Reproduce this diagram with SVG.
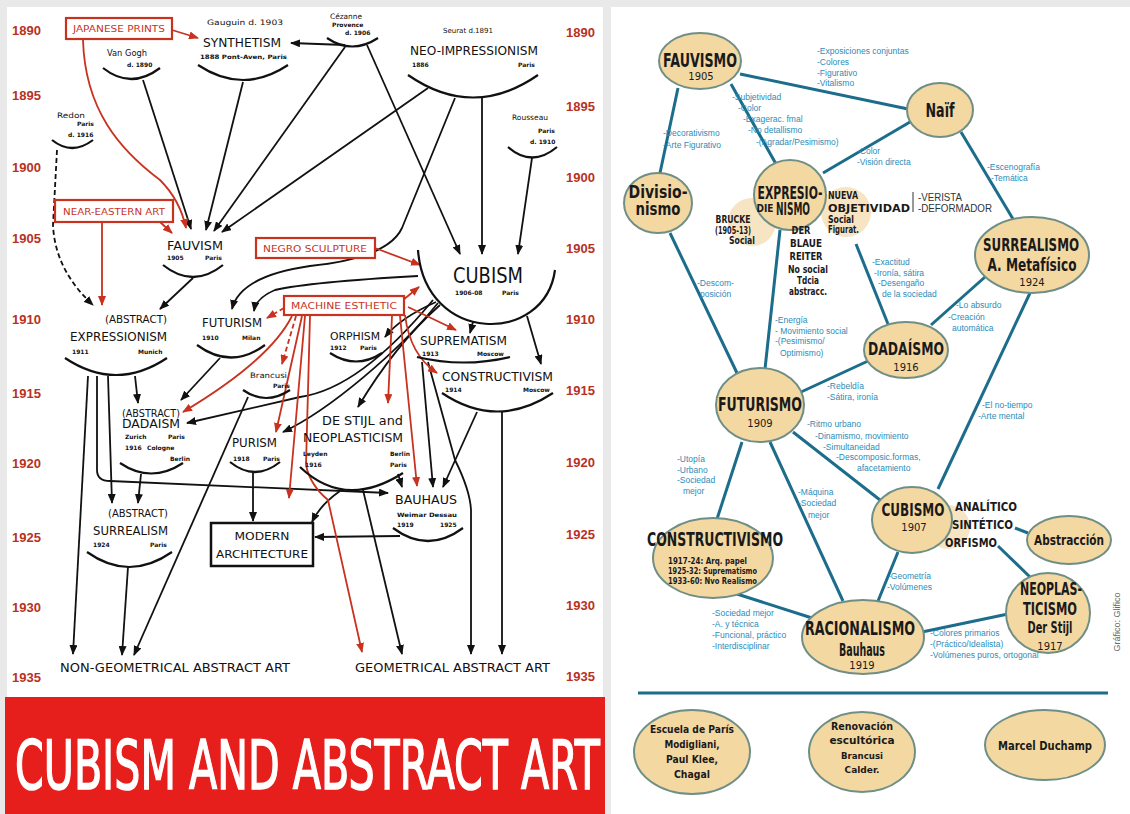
<svg xmlns="http://www.w3.org/2000/svg" width="1130" height="814" viewBox="0 0 1130 814">
<style>
.yr{font-family:"Liberation Sans",Arial,sans-serif;font-weight:bold;font-size:13px;fill:#b8311f}
.t{font-family:"DejaVu Sans",sans-serif;fill:#111}
.m{font-size:13px}
.s{font-size:6px;font-weight:bold}
.rt{font-family:"DejaVu Sans",sans-serif;font-size:9px;fill:#c8321e}
.rb{fill:#fff;stroke:#c8321e;stroke-width:2.2}
.arc{fill:none;stroke:#111;stroke-width:2.2}
.c{fill:none;stroke:#111;stroke-width:1.8;marker-end:url(#ab)}
.r{fill:none;stroke:#c8321e;stroke-width:1.8;marker-end:url(#ar)}
.d{stroke-dasharray:5 3}
.tl{fill:none;stroke:#1c6d8b;stroke-width:3}
.el{fill:#f4d8a2;stroke:#6f8f86;stroke-width:2}
.halo{fill:#f6e4c3}
.n{font-family:"DejaVu Sans",sans-serif;font-weight:bold;fill:#1a1a1a;text-anchor:middle}
.nn{font-family:"DejaVu Sans",sans-serif;fill:#1a1a1a;text-anchor:middle}
.lb{font-family:"Liberation Sans",Arial,sans-serif;font-size:8.5px;fill:#2d8cb8}
</style>
<defs>
<marker id="ab" markerUnits="userSpaceOnUse" markerWidth="10" markerHeight="8" refX="9" refY="4" orient="auto"><path d="M0,0 L10,4 L0,8 z" fill="#111"/></marker>
<marker id="ar" markerUnits="userSpaceOnUse" markerWidth="10" markerHeight="8" refX="9" refY="4" orient="auto"><path d="M0,0 L10,4 L0,8 z" fill="#c8321e"/></marker>
</defs>
<rect width="1130" height="814" fill="#e9e9e9"/>
<rect x="7" y="7" width="596" height="690" fill="#fff"/>
<rect x="611" y="7" width="519" height="807" fill="#fff"/>
<rect x="5" y="697" width="600" height="117" fill="#e61e1c"/>
<text x="15" y="789" font-family="DejaVu Sans,sans-serif" font-size="68" fill="#fff" stroke="#fff" stroke-width="1.6" textLength="585" lengthAdjust="spacingAndGlyphs">CUBISM AND ABSTRACT ART</text>

<g id="years">
<text class="yr" x="12" y="35">1890</text><text class="yr" x="12" y="100">1895</text><text class="yr" x="12" y="172">1900</text><text class="yr" x="12" y="243">1905</text><text class="yr" x="12" y="324">1910</text><text class="yr" x="12" y="398">1915</text><text class="yr" x="12" y="468">1920</text><text class="yr" x="12" y="542">1925</text><text class="yr" x="12" y="612">1930</text><text class="yr" x="12" y="682">1935</text>
<text class="yr" x="566" y="37">1890</text><text class="yr" x="566" y="111">1895</text><text class="yr" x="566" y="182">1900</text><text class="yr" x="566" y="253">1905</text><text class="yr" x="566" y="324">1910</text><text class="yr" x="566" y="395">1915</text><text class="yr" x="566" y="467">1920</text><text class="yr" x="566" y="539">1925</text><text class="yr" x="566" y="610">1930</text><text class="yr" x="566" y="681">1935</text>
</g>

<g id="connectors-left">
<path class="c" d="M143,80 L191,229"/>
<path class="c" d="M243,82 L206,230"/>
<path class="c" d="M345,45 L291,43"/>
<path class="c" d="M345,47 L214,231"/>
<path class="c" d="M428,88 L222,232"/>
<path class="c" d="M367,45 L460,254"/>
<path class="c" d="M482,98 L482,254"/>
<path class="c" d="M532,158 L518,254"/>
<path class="c" d="M455,98 L402,228 Q388,258 310,266 Q240,276 232,309"/>
<path class="c" d="M418,276 Q310,282 275,290 Q256,298 254,311"/>
<path class="c d" d="M57,150 L53,225 Q55,270 93,305"/>
<path class="c" d="M193,278 L160,309"/>
<path class="c" d="M473,322 L470,333"/>
<path class="c" d="M527,316 L541,364"/>
<path class="c" d="M436,302 Q400,318 385,337"/>
<path class="c" d="M440,305 Q395,345 358,407"/>
<path class="c" d="M433,300 C400,340 350,390 300,397 L187,423"/>
<path class="c" d="M438,303 C400,350 330,410 283,432"/>
<path class="c" d="M220,358 L181,400"/>
<path class="c" d="M135,376 L138,403"/>
<path class="c" d="M88,376 L73,654"/>
<path class="c" d="M97,376 L97,470 Q97,481 110,481 L388,493"/>
<path class="c" d="M108,376 L112,503"/>
<path class="c" d="M141,474 L138,503"/>
<path class="c" d="M248,397 L134,655"/>
<path class="c" d="M253,473 L253,521"/>
<path class="c" d="M340,491 Q320,505 312,522"/>
<path class="c" d="M363,490 L402,654"/>
<path class="c" d="M398,474 L402,487"/>
<path class="c" d="M400,536 L315,537"/>
<path class="c" d="M422,362 L433,487"/>
<path class="c" d="M477,412 L443,487"/>
<path class="c" d="M428,362 L455,460 Q470,490 471,510 L471,654"/>
<path class="c" d="M502,412 L502,654"/>
<path class="c" d="M128,567 L122,655"/>
<path class="r" d="M172,30 L198,38"/>
<path class="r" d="M83,40 C85,110 120,150 160,180 Q180,200 186,228"/>
<path class="r" d="M160,222 L172,233"/>
<path class="r" d="M102,222 L102,305"/>
<path class="r" d="M375,248 L420,265"/>
<path class="r" d="M403,300 L419,287"/>
<path class="r" d="M408,307 L456,330"/>
<path class="r" d="M405,315 Q410,355 437,373"/>
<path class="r d" d="M284,308 L267,318"/>
<path class="r d" d="M296,316 L282,364"/>
<path class="r" d="M292,316 Q270,360 183,412"/>
<path class="r" d="M302,316 L276,432"/>
<path class="r" d="M305,316 L289,498"/>
<path class="r" d="M310,316 L306,465 Q310,485 328,500 L362,652"/>
<path class="r" d="M392,316 L388,403"/>
<path class="r" d="M400,316 L417,486"/>
</g>

<g id="n-japanese"><rect class="rb" x="66" y="18" width="106" height="21"/><text class="rt" x="119" y="32" text-anchor="middle" textLength="92" lengthAdjust="spacingAndGlyphs">JAPANESE PRINTS</text></g>
<g id="n-neareastern"><rect class="rb" x="55" y="200" width="118" height="22"/><text class="rt" x="114" y="215" text-anchor="middle" textLength="102" lengthAdjust="spacingAndGlyphs">NEAR-EASTERN ART</text></g>
<g id="n-negro"><rect class="rb" x="256" y="238" width="119" height="20"/><text class="rt" x="315" y="252" text-anchor="middle" textLength="104" lengthAdjust="spacingAndGlyphs">NEGRO SCULPTURE</text></g>
<g id="n-machine"><rect class="rb" x="284" y="296" width="120" height="19"/><text class="rt" x="344" y="309" text-anchor="middle" textLength="106" lengthAdjust="spacingAndGlyphs">MACHINE ESTHETIC</text></g>

<g id="n-synthetism"><text class="t" x="207" y="25" font-size="7.5" textLength="76" lengthAdjust="spacingAndGlyphs">Gauguin d. 1903</text><text class="t m" x="203" y="47" textLength="78" lengthAdjust="spacingAndGlyphs">SYNTHETISM</text><text class="t s" x="200" y="59" textLength="87" lengthAdjust="spacingAndGlyphs">1888 Pont-Aven, Paris</text><path class="arc" d="M198,65 Q243,95 288,65"/></g>
<g id="n-vangogh"><text class="t" x="107" y="56" font-size="8" textLength="40" lengthAdjust="spacingAndGlyphs">Van Gogh</text><text class="t s" x="127" y="67">d. 1890</text><path class="arc" d="M103,68 Q131,90 160,68"/></g>
<g id="n-cezanne"><text class="t" x="330" y="19" font-size="7.5" textLength="32" lengthAdjust="spacingAndGlyphs">Cézanne</text><text class="t s" x="332" y="27">Provence</text><text class="t s" x="345" y="35">d. 1906</text><path class="arc" d="M327,38 Q352,55 378,38"/></g>
<g id="n-neo"><text class="t" x="443" y="33" font-size="7" textLength="50" lengthAdjust="spacingAndGlyphs">Seurat d.1891</text><text class="t m" x="410" y="55" textLength="128" lengthAdjust="spacingAndGlyphs">NEO-IMPRESSIONISM</text><text class="t s" x="412" y="67">1886</text><text class="t s" x="518" y="67">Paris</text><path class="arc" d="M408,75 Q473,120 538,75"/></g>
<g id="n-rousseau"><text class="t" x="512" y="120" font-size="7.5" textLength="36" lengthAdjust="spacingAndGlyphs">Rousseau</text><text class="t s" x="538" y="133">Paris</text><text class="t s" x="530" y="144">d. 1910</text><path class="arc" d="M508,147 Q532,168 557,147"/></g>
<g id="n-redon"><text class="t" x="57" y="118" font-size="7.5" textLength="28" lengthAdjust="spacingAndGlyphs">Redon</text><text class="t s" x="77" y="126">Paris</text><text class="t s" x="68" y="137">d. 1916</text><path class="arc" d="M52,140 Q72,156 93,140"/></g>
<g id="n-fauvism"><text class="t m" x="167" y="250" textLength="56" lengthAdjust="spacingAndGlyphs">FAUVISM</text><text class="t s" x="167" y="260">1905</text><text class="t s" x="205" y="260">Paris</text><path class="arc" d="M163,265 Q193,289 223,265"/></g>
<g id="n-cubism"><text class="t" x="453" y="283" font-size="22" textLength="70" lengthAdjust="spacingAndGlyphs">CUBISM</text><text class="t s" x="455" y="295">1906-08</text><text class="t s" x="502" y="295">Paris</text><path class="arc" d="M418,250 C425,345 545,345 555,270"/></g>
<g id="n-futurism"><text class="t m" x="202" y="327" textLength="60" lengthAdjust="spacingAndGlyphs">FUTURISM</text><text class="t s" x="202" y="340">1910</text><text class="t s" x="242" y="340">Milan</text><path class="arc" d="M197,345 Q231,370 265,345"/></g>
<g id="n-expressionism"><text class="t" x="105" y="323" font-size="10.5" textLength="62" lengthAdjust="spacingAndGlyphs">(ABSTRACT)</text><text class="t m" x="70" y="341" textLength="97" lengthAdjust="spacingAndGlyphs">EXPRESSIONISM</text><text class="t s" x="72" y="354">1911</text><text class="t s" x="138" y="354">Munich</text><path class="arc" d="M65,358 Q116,392 167,358"/></g>
<g id="n-orphism"><text class="t" x="330" y="340" font-size="10.5" textLength="50" lengthAdjust="spacingAndGlyphs">ORPHISM</text><text class="t s" x="330" y="350">1912</text><text class="t s" x="360" y="350">Paris</text><path class="arc" d="M330,353 Q356,370 382,353"/></g>
<g id="n-suprematism"><text class="t m" x="420" y="345" textLength="87" lengthAdjust="spacingAndGlyphs">SUPREMATISM</text><text class="t s" x="422" y="356">1913</text><text class="t s" x="477" y="356">Moscow</text><path class="arc" d="M417,357 Q463,368 510,357"/></g>
<g id="n-constructivism"><text class="t m" x="442" y="381" textLength="111" lengthAdjust="spacingAndGlyphs">CONSTRUCTIVISM</text><text class="t s" x="445" y="392">1914</text><text class="t s" x="523" y="392">Moscow</text><path class="arc" d="M442,393 Q497,430 553,393"/></g>
<g id="n-brancusi"><text class="t" x="250" y="378" font-size="7.5" textLength="37" lengthAdjust="spacingAndGlyphs">Brancusi</text><text class="t s" x="273" y="388">Paris</text><path class="arc" d="M243,390 Q266,406 290,390"/></g>
<g id="n-dadaism"><text class="t" x="122" y="417" font-size="10" textLength="58" lengthAdjust="spacingAndGlyphs">(ABSTRACT)</text><text class="t m" x="122" y="428" textLength="58" lengthAdjust="spacingAndGlyphs">DADAISM</text><text class="t s" x="125" y="439">Zurich</text><text class="t s" x="168" y="439">Paris</text><text class="t s" x="125" y="450">1916</text><text class="t s" x="147" y="450">Cologne</text><text class="t s" x="170" y="461">Berlin</text><path class="arc" d="M120,463 Q151,484 183,463"/></g>
<g id="n-destijl"><text class="t m" x="322" y="425" textLength="81" lengthAdjust="spacingAndGlyphs">DE STIJL and</text><text class="t m" x="303" y="442" textLength="100" lengthAdjust="spacingAndGlyphs">NEOPLASTICISM</text><text class="t s" x="303" y="456">Leyden</text><text class="t s" x="390" y="456">Berlin</text><text class="t s" x="305" y="467">1916</text><text class="t s" x="390" y="467">Paris</text><path class="arc" d="M300,467 Q345,510 403,473"/></g>
<g id="n-purism"><text class="t m" x="232" y="447" textLength="45" lengthAdjust="spacingAndGlyphs">PURISM</text><text class="t s" x="233" y="461">1918</text><text class="t s" x="263" y="461">Paris</text><path class="arc" d="M230,462 Q255,482 280,462"/></g>
<g id="n-bauhaus"><text class="t m" x="395" y="504" textLength="62" lengthAdjust="spacingAndGlyphs">BAUHAUS</text><text class="t s" x="397" y="517" textLength="60" lengthAdjust="spacingAndGlyphs">Weimar Dessau</text><text class="t s" x="397" y="527">1919</text><text class="t s" x="440" y="527">1925</text><path class="arc" d="M393,528 Q428,554 463,528"/></g>
<g id="n-surrealism"><text class="t" x="108" y="517" font-size="10" textLength="60" lengthAdjust="spacingAndGlyphs">(ABSTRACT)</text><text class="t m" x="93" y="535" textLength="75" lengthAdjust="spacingAndGlyphs">SURREALISM</text><text class="t s" x="93" y="547">1924</text><text class="t s" x="150" y="547">Paris</text><path class="arc" d="M87,552 Q129,582 172,552"/></g>
<g id="n-modern"><rect x="211" y="523" width="102" height="43" fill="#fff" stroke="#111" stroke-width="2.5"/><text class="t" x="262" y="540" font-size="11" text-anchor="middle" textLength="55" lengthAdjust="spacingAndGlyphs">MODERN</text><text class="t" x="262" y="558" font-size="11" text-anchor="middle" textLength="92" lengthAdjust="spacingAndGlyphs">ARCHITECTURE</text></g>
<g id="n-nongeo"><text class="t" x="60" y="672" font-size="13" textLength="230" lengthAdjust="spacingAndGlyphs">NON-GEOMETRICAL ABSTRACT ART</text></g>
<g id="n-geo"><text class="t" x="355" y="672" font-size="13" textLength="195" lengthAdjust="spacingAndGlyphs">GEOMETRICAL ABSTRACT ART</text></g>

<g id="connectors-right">
<path class="tl" d="M740,74 L908,109"/>
<path class="tl" d="M678,88 L660,173"/>
<path class="tl" d="M731,84 L776,164"/>
<path class="tl" d="M910,122 L823,173"/>
<path class="tl" d="M961,132 L1013,219"/>
<path class="tl" d="M670,233 L737,373" stroke-width="2"/>
<path class="tl" d="M780,230 L765,369"/>
<path class="tl" d="M856,244 L888,324"/>
<path class="tl" d="M985,277 L931,325"/>
<path class="tl" d="M1030,293 L938,489"/>
<path class="tl" d="M801,392 L868,361"/>
<path class="tl" d="M793,432 L880,500"/>
<path class="tl" d="M742,442 L717,519"/>
<path class="tl" d="M770,442 L843,601"/>
<path class="tl" d="M737,594 L812,618"/>
<path class="tl" d="M898,552 L878,601"/>
<path class="tl" d="M922,632 L1008,614" stroke-width="2"/>
<path class="tl" d="M1015,528 L1028,533"/>
<path class="tl" d="M998,546 L1030,577"/>
<path class="tl" d="M638,693 L1108,693"/>
</g>

<g id="labels-right">
<text class="lb" x="817" y="54">-Exposiciones conjuntas</text><text class="lb" x="817" y="65">-Colores</text><text class="lb" x="817" y="76">-Figurativo</text><text class="lb" x="817" y="86">-Vitalismo</text>
<text class="lb" x="732" y="100">-Subjetividad</text><text class="lb" x="738" y="111">-Color</text><text class="lb" x="743" y="122">-Exagerac. fmal</text><text class="lb" x="748" y="133">-No detallismo</text><text class="lb" x="756" y="145">-(Agradar/Pesimismo)</text>
<text class="lb" x="663" y="136">-Decorativismo</text><text class="lb" x="663" y="148">-Arte Figurativo</text>
<text class="lb" x="857" y="154">-Color</text><text class="lb" x="857" y="165">-Visión directa</text>
<text class="lb" x="987" y="170">-Escenografía</text><text class="lb" x="991" y="181">-Temática</text>
<text class="lb" x="872" y="265">-Exactitud</text><text class="lb" x="874" y="276">-Ironía, sátira</text><text class="lb" x="878" y="286">-Desengaño</text><text class="lb" x="882" y="297">de la sociedad</text>
<text class="lb" x="956" y="308">-Lo absurdo</text><text class="lb" x="948" y="320">-Creación</text><text class="lb" x="952" y="331">automática</text>
<text class="lb" x="697" y="286">-Descom-</text><text class="lb" x="700" y="297">posición</text>
<text class="lb" x="775" y="323">-Energía</text><text class="lb" x="775" y="334">- Movimiento social</text><text class="lb" x="775" y="344">-(Pesimismo/</text><text class="lb" x="780" y="356">Optimismo)</text>
<text class="lb" x="827" y="389">-Rebeldía</text><text class="lb" x="827" y="400">-Sátira, ironía</text>
<text class="lb" x="982" y="408">-El no-tiempo</text><text class="lb" x="978" y="419">-Arte mental</text>
<text class="lb" x="807" y="427">-Ritmo urbano</text><text class="lb" x="815" y="439">-Dinamismo, movimiento</text><text class="lb" x="823" y="450">-Simultaneidad</text><text class="lb" x="836" y="460">-Descomposic.formas,</text><text class="lb" x="857" y="471">afacetamiento</text>
<text class="lb" x="677" y="462">-Utopía</text><text class="lb" x="677" y="473">-Urbano</text><text class="lb" x="677" y="483">-Sociedad</text><text class="lb" x="683" y="494">mejor</text>
<text class="lb" x="798" y="495">-Máquina</text><text class="lb" x="798" y="506">-Sociedad</text><text class="lb" x="808" y="518">mejor</text>
<text class="lb" x="888" y="579">-Geometría</text><text class="lb" x="887" y="590">-Volúmenes</text>
<text class="lb" x="712" y="616">-Sociedad mejor</text><text class="lb" x="712" y="627">-A. y técnica</text><text class="lb" x="712" y="638">-Funcional, práctico</text><text class="lb" x="712" y="649">-Interdisciplinar</text>
<text class="lb" x="930" y="636">-Colores primarios</text><text class="lb" x="930" y="647">-(Práctico/Idealista)</text><text class="lb" x="930" y="658">-Volúmenes puros, ortogonal</text>
</g>

<g id="n-fauvismo"><ellipse class="el" cx="700" cy="61" rx="41" ry="28"/><text class="n" x="700" y="67" font-size="19" textLength="74" lengthAdjust="spacingAndGlyphs">FAUVISMO</text><text class="nn" x="701" y="80" font-size="10">1905</text></g>
<g id="n-naif"><ellipse class="el" cx="940" cy="110" rx="33" ry="27"/><text class="n" x="940" y="117" font-size="19" textLength="29" lengthAdjust="spacingAndGlyphs">Naïf</text></g>
<g id="n-divisionismo"><ellipse class="el" cx="658" cy="203" rx="34" ry="30"/><text class="n" x="658" y="198" font-size="17" textLength="59" lengthAdjust="spacingAndGlyphs">Divisio-</text><text class="n" x="658" y="215" font-size="17" textLength="45" lengthAdjust="spacingAndGlyphs">nismo</text></g>
<g id="n-expresionismo"><circle class="halo" cx="752" cy="222" r="24"/><circle class="halo" cx="846" cy="212" r="25"/><ellipse class="el" cx="790" cy="195" rx="36" ry="35"/><text class="n" x="790" y="199" font-size="17" textLength="65" lengthAdjust="spacingAndGlyphs">EXPRESIO-</text><text class="n" x="793" y="215" font-size="17" textLength="34" lengthAdjust="spacingAndGlyphs">NISMO</text>
<text class="n" x="765" y="212" font-size="11" textLength="17" lengthAdjust="spacingAndGlyphs">DIE</text><text class="n" x="733" y="223" font-size="11" textLength="35" lengthAdjust="spacingAndGlyphs">BRUCKE</text><text class="n" x="733" y="234" font-size="10" textLength="36" lengthAdjust="spacingAndGlyphs">(1905-13)</text><text class="n" x="742" y="244" font-size="10" textLength="26" lengthAdjust="spacingAndGlyphs">Social</text>
<text class="n" x="801" y="234" font-size="11" textLength="19" lengthAdjust="spacingAndGlyphs">DER</text><text class="n" x="806" y="247" font-size="11" textLength="32" lengthAdjust="spacingAndGlyphs">BLAUE</text><text class="n" x="806" y="260" font-size="11" textLength="33" lengthAdjust="spacingAndGlyphs">REITER</text><text class="n" x="808" y="273" font-size="10" textLength="40" lengthAdjust="spacingAndGlyphs">No social</text><text class="n" x="808" y="284" font-size="10" textLength="22" lengthAdjust="spacingAndGlyphs">Tdcia</text><text class="n" x="808" y="295" font-size="10" textLength="38" lengthAdjust="spacingAndGlyphs">abstracc.</text>
<text class="n" x="828" y="199" font-size="11" style="text-anchor:start" textLength="30" lengthAdjust="spacingAndGlyphs">NUEVA</text><text class="n" x="828" y="212" font-size="11" style="text-anchor:start" textLength="82" lengthAdjust="spacingAndGlyphs">OBJETIVIDAD</text><text class="n" x="828" y="223" font-size="10" style="text-anchor:start" textLength="26" lengthAdjust="spacingAndGlyphs">Social</text><text class="n" x="828" y="233" font-size="10" style="text-anchor:start" textLength="31" lengthAdjust="spacingAndGlyphs">Figurat.</text>
<line x1="913" y1="192" x2="913" y2="212" stroke="#333" stroke-width="1"/><text x="918" y="201" font-family="Liberation Sans,Arial,sans-serif" font-size="10.5" fill="#333" textLength="44" lengthAdjust="spacingAndGlyphs">-VERISTA</text><text x="918" y="212" font-family="Liberation Sans,Arial,sans-serif" font-size="10.5" fill="#333" textLength="74" lengthAdjust="spacingAndGlyphs">-DEFORMADOR</text></g>
<g id="n-surrealismo"><ellipse class="el" cx="1032" cy="255" rx="57" ry="38"/><text class="n" x="1031" y="251" font-size="18" textLength="96" lengthAdjust="spacingAndGlyphs">SURREALISMO</text><text class="n" x="1032" y="271" font-size="18" textLength="89" lengthAdjust="spacingAndGlyphs">A. Metafísico</text><text class="nn" x="1032" y="286" font-size="10">1924</text></g>
<g id="n-dadaismo"><ellipse class="el" cx="906" cy="350" rx="42" ry="28"/><text class="n" x="906" y="355" font-size="18" textLength="76" lengthAdjust="spacingAndGlyphs">DADAÍSMO</text><text class="nn" x="906" y="371" font-size="10">1916</text></g>
<g id="n-futurismo"><ellipse class="el" cx="760" cy="405" rx="44" ry="37"/><text class="n" x="760" y="411" font-size="19" textLength="84" lengthAdjust="spacingAndGlyphs">FUTURISMO</text><text class="nn" x="760" y="427" font-size="10">1909</text></g>
<g id="n-cubismo"><circle class="halo" cx="948" cy="527" r="22"/><ellipse class="el" cx="912" cy="520" rx="40" ry="33"/><text class="n" x="913" y="516" font-size="18" textLength="63" lengthAdjust="spacingAndGlyphs">CUBISMO</text><text class="nn" x="914" y="531" font-size="10">1907</text>
<text class="n" x="955" y="511" font-size="12" style="text-anchor:start" textLength="62" lengthAdjust="spacingAndGlyphs">ANALÍTICO</text><text class="n" x="952" y="529" font-size="12" style="text-anchor:start" textLength="61" lengthAdjust="spacingAndGlyphs">SINTÉTICO</text><text class="n" x="945" y="547" font-size="12" style="text-anchor:start" textLength="52" lengthAdjust="spacingAndGlyphs">ORFISMO</text></g>
<g id="n-abstraccion"><ellipse class="el" cx="1069" cy="540" rx="42" ry="24"/><text class="n" x="1069" y="545" font-size="14" textLength="70" lengthAdjust="spacingAndGlyphs">Abstracción</text></g>
<g id="n-constructivismo"><ellipse class="el" cx="713" cy="558" rx="60" ry="40"/><text class="n" x="715" y="546" font-size="19" textLength="136" lengthAdjust="spacingAndGlyphs">CONSTRUCTIVISMO</text><text class="n" x="668" y="564" font-size="9" style="text-anchor:start" textLength="79" lengthAdjust="spacingAndGlyphs">1917-24: Arq. papel</text><text class="n" x="668" y="574" font-size="9" style="text-anchor:start" textLength="89" lengthAdjust="spacingAndGlyphs">1925-32: Suprematismo</text><text class="n" x="668" y="584" font-size="9" style="text-anchor:start" textLength="89" lengthAdjust="spacingAndGlyphs">1933-60: Nvo Realismo</text></g>
<g id="n-racionalismo"><ellipse class="el" cx="863" cy="637" rx="61" ry="37"/><text class="n" x="860" y="635" font-size="19" textLength="110" lengthAdjust="spacingAndGlyphs">RACIONALISMO</text><text class="n" x="862" y="656" font-size="17" textLength="46" lengthAdjust="spacingAndGlyphs">Bauhaus</text><text class="nn" x="862" y="669" font-size="10">1919</text></g>
<g id="n-neoplasticismo"><ellipse class="el" cx="1048" cy="613" rx="42" ry="40"/><text class="n" x="1051" y="595" font-size="17" textLength="62" lengthAdjust="spacingAndGlyphs">NEOPLAS-</text><text class="n" x="1050" y="615" font-size="17" textLength="54" lengthAdjust="spacingAndGlyphs">TICISMO</text><text class="n" x="1050" y="633" font-size="15" textLength="45" lengthAdjust="spacingAndGlyphs">Der Stijl</text><text class="nn" x="1050" y="650" font-size="10">1917</text></g>
<text x="1120" y="622" transform="rotate(-90 1120 622)" text-anchor="middle" font-family="Liberation Sans,Arial,sans-serif" font-size="9" fill="#666">Gráfico: Glifico</text>

<g id="n-escuela"><ellipse class="el" cx="692" cy="752" rx="58" ry="42"/><text class="n" x="692" y="733" font-size="10.5" textLength="84" lengthAdjust="spacingAndGlyphs">Escuela de París</text><text class="n" x="692" y="748" font-size="10" textLength="55" lengthAdjust="spacingAndGlyphs">Modigliani,</text><text class="n" x="692" y="763" font-size="10" textLength="52" lengthAdjust="spacingAndGlyphs">Paul Klee,</text><text class="n" x="692" y="778" font-size="10" textLength="36" lengthAdjust="spacingAndGlyphs">Chagal</text></g>
<g id="n-renovacion"><ellipse class="el" cx="862" cy="752" rx="53" ry="40"/><text class="n" x="862" y="730" font-size="10.5" textLength="62" lengthAdjust="spacingAndGlyphs">Renovación</text><text class="n" x="862" y="744" font-size="10.5" textLength="65" lengthAdjust="spacingAndGlyphs">escultórica</text><text class="n" x="862" y="759" font-size="9.5" textLength="42" lengthAdjust="spacingAndGlyphs">Brancusi</text><text class="n" x="862" y="773" font-size="9.5" textLength="35" lengthAdjust="spacingAndGlyphs">Calder.</text></g>
<g id="n-duchamp"><ellipse class="el" cx="1045" cy="745" rx="60" ry="35"/><text class="n" x="1045" y="750" font-size="13" textLength="94" lengthAdjust="spacingAndGlyphs">Marcel Duchamp</text></g>
</svg>
